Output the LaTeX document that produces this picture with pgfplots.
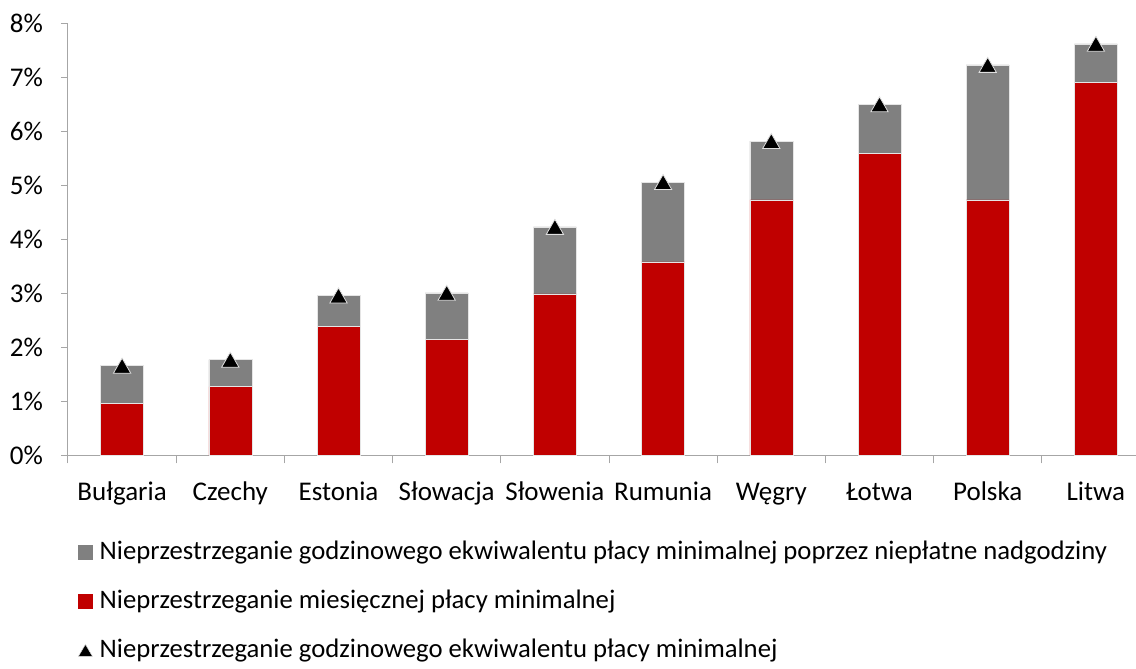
\documentclass[border=0pt]{standalone}
\usepackage{fontspec}
\setmainfont{Carlito}
\usepackage{pgfplots}
\pgfplotsset{compat=1.18}
\definecolor{cred}{HTML}{C00000}
\definecolor{cgray}{HTML}{808080}
\definecolor{axgray}{HTML}{A6A6A6}
\begin{document}
\fontsize{27}{32}\selectfont
\begin{tikzpicture}
\path[use as bounding box] (-68pt,-213.7pt) rectangle (1068pt,455.3pt);
\begin{axis}[
 at={(0pt,0pt)}, anchor=south west,
 scale only axis, width=1068pt, height=432pt,
 xmin=-0.5, xmax=9.37, ymin=0, ymax=8,
 axis lines=left,
 axis line style={-, draw=axgray, line width=1pt},
 ybar stacked, bar width=43pt,
 xtick={0,...,9},
 xticklabels={Bułgaria,Czechy,Estonia,Słowacja,Słowenia,Rumunia,Węgry,Łotwa,Polska,Litwa},
 minor xtick={-0.5,0.5,...,8.5},
 xtick style={draw=none},
 minor x tick style={draw=axgray, line width=1pt},
 minor tick length=8pt,
 major tick length=7pt,
 ytick={0,1,...,8},
 y tick style={draw=axgray, line width=1pt},
 tick align=outside,
 yticklabel={\pgfmathprintnumber{\tick}\%},
 /pgf/number format/assume math mode=true,
 ticklabel style={font=\fontsize{27}{32}\selectfont},
 xticklabel style={yshift=-10pt, text height=19.5pt, text depth=6pt},
 yticklabel style={xshift=-9pt},
]
\addplot[fill=cred, draw=white!80!gray, line width=0.5pt]
 coordinates {(0,0.96) (1,1.27) (2,2.39) (3,2.14) (4,2.99) (5,3.58) (6,4.73) (7,5.59) (8,4.73) (9,6.90)};
\addplot[fill=cgray, draw=white!80!gray, line width=0.5pt]
 coordinates {(0,0.70) (1,0.50) (2,0.57) (3,0.87) (4,1.24) (5,1.48) (6,1.09) (7,0.91) (8,2.50) (9,0.72)};
\end{axis}
\begin{axis}[
 at={(0pt,0pt)}, anchor=south west,
 scale only axis, width=1068pt, height=432pt,
 xmin=-0.5, xmax=9.37, ymin=0, ymax=8,
 axis lines=none,
 legend style={at={(0.00936,-0.193)}, anchor=north west, draw=none, fill=none,
   font=\fontsize{26.7}{31}\selectfont, row sep=22.5pt, column sep=5pt, inner sep=0pt,
   cells={anchor=west}},
 legend cell align=left,
]
\addlegendimage{legend image code/.code={\fill[cgray] (0pt,-7pt) rectangle (14pt,7pt);}}
\addlegendentry{Nieprzestrzeganie godzinowego ekwiwalentu płacy minimalnej poprzez niepłatne nadgodziny}
\addlegendimage{legend image code/.code={\fill[cred] (0pt,-7pt) rectangle (14pt,7pt);}}
\addlegendentry{Nieprzestrzeganie miesięcznej płacy minimalnej}
\addplot[only marks, mark=triangle*, mark size=10pt, draw=white!75!gray, fill=black, line width=0.8pt,
  mark options={yshift=-2.5pt},
  legend image code/.code={\draw[draw=white!75!gray, fill=black, line width=0.5pt] (0pt,-6pt) -- (14pt,-6pt) -- (7pt,6pt) -- cycle;}]
 coordinates {(0,1.66) (1,1.77) (2,2.96) (3,3.01) (4,4.23) (5,5.06) (6,5.82) (7,6.50) (8,7.23) (9,7.62)};
\addlegendentry{Nieprzestrzeganie godzinowego ekwiwalentu płacy minimalnej}
\end{axis}
\end{tikzpicture}
\end{document}
